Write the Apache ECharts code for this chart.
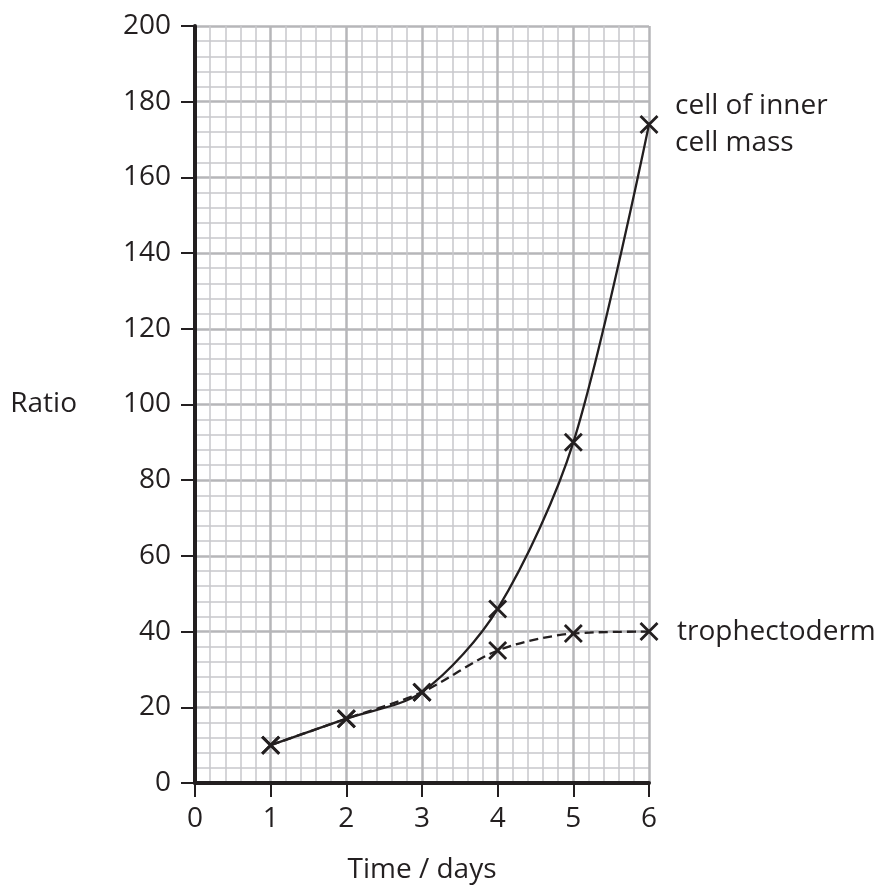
<!DOCTYPE html>
<html><head><meta charset="utf-8">
<script src="https://cdn.jsdelivr.net/npm/echarts@6/dist/echarts.min.js"></script>
<style>html,body{margin:0;padding:0;background:#fff}#c{width:881px;height:886px}</style>
</head><body><div id="c"></div>
<script>
var days = [1, 2, 3, 4, 5, 6];
var innerCellMass = [10, 17, 24, 46, 90, 174];
var trophectoderm = [10, 17, 24, 35, 39.5, 40];
var xTicks = [0, 1, 2, 3, 4, 5, 6];
var yTicks = [0, 20, 40, 60, 80, 100, 120, 140, 160, 180, 200];

var FONT = 'Open Sans';
var INK = '#231f20';
var cross = 'path://M0,0L10,10M10,0L0,10';
function pts(vals){ return days.map(function(d,i){ return [d, vals[i]]; }); }

var chart = echarts.init(document.getElementById('c'));
chart.setOption({
  animation: false,
  backgroundColor: '#fff',
  grid: { left: 195, right: 232, top: 26, bottom: 103, containLabel: false, outerBoundsMode: 'none' },
  xAxis: {
    type: 'value', min: 0, max: 6, interval: 1,
    name: 'Time / days', nameLocation: 'middle', nameGap: 73,
    nameTextStyle: { fontFamily: FONT, fontSize: 28, color: INK },
    axisLine: { show: true, onZero: false, lineStyle: { color: INK, width: 4 } },
    axisTick: { show: true, length: 14, lineStyle: { color: INK, width: 2 } },
    axisLabel: { fontFamily: FONT, fontSize: 28, color: INK, margin: 22,
      formatter: function(v){ return xTicks.indexOf(v) >= 0 ? String(v) : ''; } },
    splitLine: { show: true, lineStyle: { color: '#b6b6b9', width: 2.5 } },
    minorTick: { show: false, splitNumber: 5 },
    minorSplitLine: { show: true, lineStyle: { color: '#c8c8cb', width: 1.5 } }
  },
  yAxis: {
    type: 'value', min: 0, max: 200, interval: 20,
    name: 'Ratio', nameLocation: 'middle', nameGap: 118, nameRotate: 0,
    nameTextStyle: { fontFamily: FONT, fontSize: 28, color: INK },
    axisLine: { show: true, onZero: false, lineStyle: { color: INK, width: 4 } },
    axisTick: { show: true, length: 14, lineStyle: { color: INK, width: 2 } },
    axisLabel: { fontFamily: FONT, fontSize: 28, color: INK, margin: 24,
      formatter: function(v){ return yTicks.indexOf(v) >= 0 ? String(v) : ''; } },
    splitLine: { show: true, lineStyle: { color: '#b6b6b9', width: 2.5 } },
    minorTick: { show: false, splitNumber: 5 },
    minorSplitLine: { show: true, lineStyle: { color: '#c8c8cb', width: 1.5 } }
  },
  series: [
    {
      name: 'trophectoderm', type: 'line', data: pts(trophectoderm),
      smooth: 0.3,
      lineStyle: { color: INK, width: 2.3, type: [9, 5] },
      symbol: cross, symbolSize: 17, showAllSymbol: true,
      itemStyle: { color: 'rgba(0,0,0,0)', borderColor: INK, borderWidth: 2.8 },
      endLabel: { show: true, distance: 28, formatter: 'trophectoderm',
        fontFamily: FONT, fontSize: 28, color: INK },
      z: 3
    },
    {
      name: 'cell of inner cell mass', type: 'line', data: pts(innerCellMass),
      smooth: 0.3,
      lineStyle: { color: INK, width: 2.3 },
      symbol: cross, symbolSize: 17, showAllSymbol: true,
      itemStyle: { color: 'rgba(0,0,0,0)', borderColor: INK, borderWidth: 2.8 },
      endLabel: { show: true, distance: 26, formatter: 'cell of inner\ncell mass',
        fontFamily: FONT, fontSize: 28, lineHeight: 37, color: INK, align: 'left' },
      z: 4
    }
  ]
});
</script></body></html>
